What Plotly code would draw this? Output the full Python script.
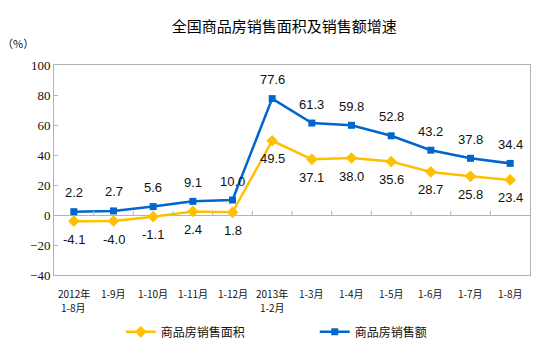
import plotly.graph_objects as go

categories = ["2012年\n1-8月", "1-9月", "1-10月", "1-11月", "1-12月", "2013年\n1-2月",
              "1-3月", "1-4月", "1-5月", "1-6月", "1-7月", "1-8月"]
area_growth = [-4.1, -4.0, -1.1, 2.4, 1.8, 49.5, 37.1, 38.0, 35.6, 28.7, 25.8, 23.4]
sales_growth = [2.2, 2.7, 5.6, 9.1, 10.0, 77.6, 61.3, 59.8, 52.8, 43.2, 37.8, 34.4]
y_ticks = [-40, -20, 0, 20, 40, 60, 80, 100]

YELLOW = "#FFC000"
BLUE = "#0066CC"
GRID = "#B4B4B4"
CJK = "SimSun, Noto Sans CJK SC, sans-serif"

idx = list(range(len(categories)))

fig = go.Figure()
fig.add_trace(go.Scatter(
    x=idx, y=area_growth, mode="lines+markers", name="商品房销售面积",
    line=dict(color=YELLOW, width=2.5),
    marker=dict(symbol="diamond", size=9, color=YELLOW),
))
fig.add_trace(go.Scatter(
    x=idx, y=sales_growth, mode="lines+markers", name="商品房销售额",
    line=dict(color=BLUE, width=2.5),
    marker=dict(symbol="square", size=7, color=BLUE),
))

annotations = []
for i, v in zip(idx, area_growth):
    annotations.append(dict(x=i, y=v, text=f"{v:.1f}", showarrow=False, yshift=-18,
                            font=dict(family="Liberation Sans, Arial", size=13, color="#111")))
for i, v in zip(idx, sales_growth):
    annotations.append(dict(x=i, y=v, text=f"{v:.1f}", showarrow=False, yshift=19,
                            font=dict(family="Liberation Sans, Arial", size=13, color="#111")))
# category labels (one annotation per text line to keep line spacing clean)
for i, lab in zip(idx, categories):
    for k, line in enumerate(lab.split("\n")):
        annotations.append(dict(x=i, xref="x", y=0, yref="paper", yanchor="middle",
                                yshift=-18 - 14 * k, text=line, showarrow=False,
                                font=dict(family=CJK, size=10, color="#111")))
annotations.append(dict(x=0, y=1.0, xref="paper", yref="paper", xanchor="right", yanchor="middle",
                        xshift=-18, yshift=22, text="（%）", showarrow=False,
                        font=dict(family=CJK, size=11, color="#111")))

shapes = []
for b in range(1, len(categories)):
    shapes.append(dict(type="line", xref="x", yref="y", x0=b - 0.5, x1=b - 0.5,
                       y0=0, y1=2.7, line=dict(color=GRID, width=1)))

fig.update_layout(
    width=554, height=353,
    margin=dict(l=54, r=24, t=65, b=78, autoexpand=False),
    paper_bgcolor="white", plot_bgcolor="white",
    title=dict(text="全国商品房销售面积及销售额增速", x=0.513, xanchor="center", y=0.925, yanchor="middle",
               font=dict(family=CJK, size=15, color="#000")),
    showlegend=True,
    legend=dict(orientation="h", x=0.218, xref="container", xanchor="left",
                y=0.06, yref="container", yanchor="middle",
                entrywidth=149, entrywidthmode="pixels", itemwidth=30,
                font=dict(family=CJK, size=12, color="#111"), tracegroupgap=0),
    annotations=annotations,
    shapes=shapes,
    xaxis=dict(tickmode="array", tickvals=idx, ticktext=[""] * len(idx), range=[-0.5, len(categories) - 0.5],
               showgrid=False, zeroline=False, showline=True, linecolor=GRID, mirror=True,
               ticks=""),
    yaxis=dict(range=[-40, 100], tickvals=y_ticks, showgrid=False,
               zeroline=True, zerolinecolor=GRID, zerolinewidth=1,
               showline=True, linecolor=GRID, mirror=True,
               ticks="inside", ticklen=4, tickcolor=GRID,
               tickfont=dict(family="Liberation Serif, Times New Roman", size=13, color="#111")),
)

fig.write_html("out.html")
